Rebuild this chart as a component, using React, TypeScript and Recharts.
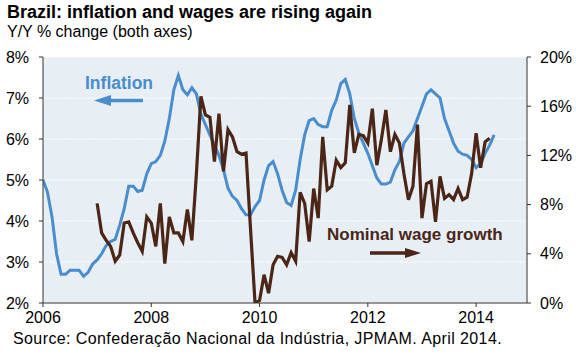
import React from "react";
import {
  CartesianGrid,
  ComposedChart,
  Line,
  XAxis,
  YAxis,
} from "recharts";

// Monthly Y/Y % change, Jan 2006 .. May 2014 (left axis)
const INFLATION = [
  5.0, 4.7, 4.1, 3.2, 2.7, 2.7, 2.8, 2.8, 2.8, 2.65, 2.75, 2.95,
  3.05, 3.2, 3.4, 3.5, 3.55, 3.9, 4.3, 4.85, 4.85, 4.72, 4.75, 5.15,
  5.4, 5.45, 5.6, 5.95, 6.5, 7.2, 7.55, 7.2, 7.08, 7.25, 7.1, 6.6,
  6.35, 6.1, 5.85, 5.6, 5.25, 4.8, 4.6, 4.5, 4.3, 4.15, 4.15, 4.35,
  4.5, 5.0, 5.35, 5.45, 5.15, 4.75, 4.45, 4.38, 4.75, 5.5, 6.1, 6.45,
  6.5, 6.35, 6.3, 6.3, 6.7, 6.95, 7.35, 7.45, 7.1, 6.5, 6.15, 5.9,
  5.65, 5.35, 5.05, 4.9, 4.9, 4.95, 5.25, 5.45, 5.9, 6.05, 6.2, 6.5,
  6.8, 7.1, 7.2, 7.1, 7.0, 6.5, 6.2, 5.9, 5.7, 5.63, 5.6, 5.5,
  5.3, 5.4, 5.65, 5.85, 6.1,
];

// Monthly Y/Y % change, Jan 2007 .. Apr 2014 (right axis)
const WAGE_START = 12;
const WAGES = [
  8.1, 5.7, 5.1, 4.6, 3.4, 3.9, 6.5, 6.6, 5.7, 4.9, 4.2, 7.0,
  6.5, 4.6, 8.1, 3.2, 7.0, 5.7, 5.7, 5.0, 7.6, 5.1, 10.5, 16.8,
  15.3, 15.1, 11.5, 15.4, 10.7, 14.1, 13.5, 12.3, 12.1, 12.2, 6.0, 0.0,
  0.2, 2.3, 0.8, 3.1, 3.8, 3.7, 3.1, 4.1, 3.4, 9.0, 8.1, 5.0,
  9.3, 6.9, 13.5, 9.2, 9.5, 11.6, 11.0, 11.4, 16.1, 12.2, 13.7, 13.6,
  13.0, 15.8, 11.2, 13.3, 15.7, 12.3, 13.7, 13.0, 10.5, 8.4, 9.5, 14.5,
  6.9, 9.7, 9.9, 6.6, 10.3, 8.5, 8.8, 8.4, 9.3, 8.4, 8.6, 10.5,
  13.8, 11.0, 13.1, 13.4,
];

const YEAR_TICKS = [2006, 2008, 2010, 2012, 2014];
const LEFT_TICKS = [2, 3, 4, 5, 6, 7, 8];
const RIGHT_TICKS = [0, 4, 8, 12, 16, 20];

const BLUE = "#4a8dcc";
const BROWN = "#4b2616";
const FONT = "'Liberation Sans', Arial, sans-serif";

const data = INFLATION.map((v, i) => {
  const w = i - WAGE_START;
  return {
    x: 2006 + i / 12,
    inflation: v,
    wage: w >= 0 && w < WAGES.length ? WAGES[w] : null,
  };
});

const tick = { fill: "#000", fontSize: 16, fontFamily: FONT };

export default function App() {
  return (
    <div
      style={{
        position: "absolute",
        left: 0,
        top: 0,
        width: 576,
        height: 364,
        background: "#fff",
        fontFamily: FONT,
      }}
    >
      <ComposedChart
        width={576}
        height={364}
        data={data}
        margin={{ top: 57, right: 0, bottom: 0, left: 0 }}
      >
        <CartesianGrid
          yAxisId="left"
          vertical={false}
          fill="#e7eff5"
          fillOpacity={1}
          stroke="#ffffff"
          strokeDasharray="2 1"
        />
        <XAxis
          dataKey="x"
          type="number"
          domain={[2006, 2014.94]}
          ticks={YEAR_TICKS}
          tickFormatter={(v) => String(Math.round(v))}
          allowDataOverflow
          height={61}
          stroke="#333"
          tickSize={4}
          tickMargin={5}
          tick={tick}
        />
        <YAxis
          yAxisId="left"
          domain={[2, 8]}
          ticks={LEFT_TICKS}
          tickFormatter={(v) => `${v}%`}
          allowDataOverflow
          width={43}
          stroke="#333"
          tickSize={4}
          tickMargin={10}
          tick={tick}
        />
        <YAxis
          yAxisId="right"
          orientation="right"
          domain={[0, 20]}
          ticks={RIGHT_TICKS}
          tickFormatter={(v) => `${v}%`}
          allowDataOverflow
          width={49}
          stroke="#333"
          tickSize={4}
          tickMargin={9}
          tick={tick}
        />
        <Line
          yAxisId="left"
          dataKey="inflation"
          type="linear"
          stroke={BLUE}
          strokeWidth={3}
          dot={false}
          isAnimationActive={false}
        />
        <Line
          yAxisId="right"
          dataKey="wage"
          type="linear"
          stroke={BROWN}
          strokeWidth={3.2}
          dot={false}
          connectNulls={false}
          isAnimationActive={false}
        />
      </ComposedChart>

      <svg
        width={576}
        height={364}
        style={{ position: "absolute", left: 0, top: 0, pointerEvents: "none" }}
      >
        <text x={7} y={18} fontSize={18} fontWeight="bold" fill="#000">
          Brazil: inflation and wages are rising again
        </text>
        <text x={7} y={36.5} fontSize={16} fill="#000">
          Y/Y % change (both axes)
        </text>
        <text x={85} y={89} fontSize={17.5} fontWeight="bold" fill={BLUE}>
          Inflation
        </text>
        <line x1={143} y1={100.5} x2={108} y2={100.5} stroke={BLUE} strokeWidth={3.5} />
        <polygon points="94,100.5 111,95 111,106" fill={BLUE} />
        <text x={327} y={239.5} fontSize={17} fontWeight="bold" fill={BROWN}>
          Nominal wage growth
        </text>
        <line x1={370} y1={253} x2={408} y2={253} stroke={BROWN} strokeWidth={3.5} />
        <polygon points="421,253 405,248 405,258" fill={BROWN} />
        <text x={13} y={343.5} fontSize={16} letterSpacing={0.4} fill="#000">
          Source: Confederação Nacional da Indústria, JPMAM. April 2014.
        </text>
      </svg>
    </div>
  );
}
